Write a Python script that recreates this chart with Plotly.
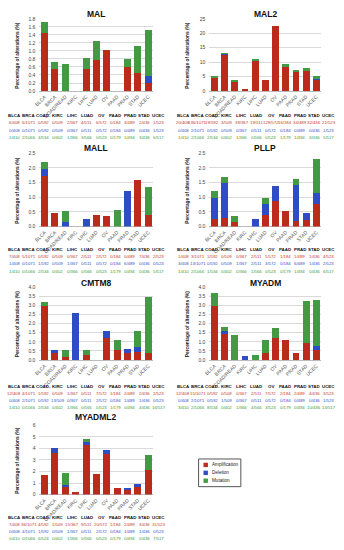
import plotly.graph_objects as go

W, H = 344, 550

categories = ["BLCA", "BRCA", "COAD/READ", "KIRC", "LIHC", "LUAD", "OV", "PAAD", "PRAD", "STAD", "UCEC"]
table_header = ["BLCA", "BRCA", "COAD-", "KIRC", "LIHC", "LUAD", "OV", "PAAD", "PRAD", "STAD", "UCEC"]

# ---- MAL ----
mal_amp = [1.45, 0.56, 0, 0, 0.54, 0.78, 1.03, 0, 0.61, 0.46, 0.19]
mal_del = [0, 0, 0, 0, 0, 0, 0, 0, 0, 0, 0.19]
mal_mut = [0.26, 0.17, 0.67, 0, 0.28, 0.47, 0, 0, 0.20, 0.67, 1.14]
mal_amp_txt = ["6/408", "6/1071", "0/592", "0/509", "2/367", "4/511", "6/572", "0/184", "3/489", "2/436", "1/523"]
mal_del_txt = ["0/408", "0/1071", "0/592", "0/509", "0/367", "0/511", "0/572", "0/184", "0/489", "0/436", "1/523"]
mal_mut_txt = ["1/410", "2/1066", "4/534", "0/402", "1/366", "3/566", "0/523", "0/179", "1/494", "3/436", "6/517"]

# ---- MAL2 ----
mal2_amp = [4.9, 12.7, 3.2, 0.6, 10.6, 3.7, 22.5, 8.7, 6.95, 7.3, 4.0]
mal2_del = [0, 0.19, 0, 0, 0, 0, 0, 0, 0, 0, 0.19]
mal2_mut = [0.24, 0.19, 0.37, 0, 0.27, 0, 0, 0.56, 0.2, 0.69, 0.95]
mal2_amp_txt = ["20/408", "136/1071", "19/592", "3/509", "39/367", "19/511", "129/572", "16/184", "34/489", "32/436", "21/523"]
mal2_del_txt = ["0/408", "2/1071", "0/592", "0/509", "0/367", "0/511", "0/572", "0/184", "0/489", "0/436", "1/523"]
mal2_mut_txt = ["1/410", "2/1066", "2/534", "0/402", "1/366", "0/566", "0/523", "1/179", "1/494", "3/436", "5/517"]

# ---- MALL ----
mall_amp = [1.72, 0.47, 0, 0, 0, 0.39, 0.35, 0, 0, 1.6, 0.38]
mall_del = [0.25, 0, 0.17, 0, 0.27, 0, 0, 0, 1.23, 0, 0]
mall_mut = [0.24, 0, 0.37, 0, 0, 0, 0, 0.56, 0, 0, 0.97]
mall_amp_txt = ["7/408", "5/1071", "0/592", "0/509", "0/367", "2/511", "2/572", "0/184", "0/489", "7/436", "2/523"]
mall_del_txt = ["1/408", "0/1071", "1/592", "0/509", "1/367", "0/511", "0/572", "0/184", "6/489", "0/436", "0/523"]
mall_mut_txt = ["1/410", "0/1066", "2/534", "0/402", "0/366", "0/566", "0/523", "1/179", "0/494", "0/436", "5/517"]

# ---- PLLP ----
pllp_amp = [0.25, 0.28, 0.17, 0, 0, 0.39, 0.87, 0.54, 0.2, 0.23, 0.76]
pllp_del = [0.74, 1.21, 0, 0, 0.27, 0.39, 0.52, 0, 1.23, 0.23, 0.38]
pllp_mut = [0.24, 0.19, 0.19, 0, 0, 0.18, 0, 0, 0.2, 0, 1.16]
pllp_amp_txt = ["1/408", "3/1071", "1/592", "0/509", "0/367", "2/511", "5/572", "1/184", "1/489", "1/436", "4/523"]
pllp_del_txt = ["3/408", "13/1071", "0/592", "0/509", "1/367", "2/511", "3/572", "0/184", "6/489", "1/436", "2/523"]
pllp_mut_txt = ["1/410", "2/1066", "1/534", "0/402", "0/366", "1/566", "0/523", "0/179", "1/494", "0/436", "6/517"]

# ---- CMTM8 ----
cmtm8_amp = [2.94, 0.37, 0.17, 0, 0.27, 0, 1.22, 0.54, 0.41, 0.46, 0.38]
cmtm8_del = [0, 0.19, 0, 2.55, 0, 0, 0.35, 0, 0.2, 0.23, 0]
cmtm8_mut = [0.24, 0, 0.37, 0, 0.27, 0, 0, 0.56, 0, 0.92, 3.09]
cmtm8_amp_txt = ["12/408", "4/1071", "1/592", "0/509", "1/367", "0/511", "7/572", "1/184", "2/489", "2/436", "2/523"]
cmtm8_del_txt = ["0/408", "2/1071", "0/592", "13/509", "0/367", "0/511", "2/572", "0/184", "1/489", "1/436", "0/523"]
cmtm8_mut_txt = ["1/410", "0/1066", "2/534", "0/402", "1/366", "0/566", "0/523", "1/179", "0/494", "4/436", "16/517"]

# ---- MYADM ----
myadm_amp = [2.94, 1.4, 0, 0, 0, 0.39, 1.22, 1.09, 0.41, 0.92, 0.57]
myadm_del = [0, 0.19, 0, 0.2, 0, 0, 0, 0, 0, 0, 0.19]
myadm_mut = [0.73, 0.19, 1.37, 0, 0.27, 0.71, 0.53, 0, 0, 2.29, 2.51]
myadm_amp_txt = ["12/408", "15/1071", "0/592", "0/509", "0/367", "2/511", "7/572", "2/184", "2/489", "4/436", "3/523"]
myadm_del_txt = ["0/408", "2/1071", "0/592", "1/509", "0/367", "0/511", "0/572", "0/184", "0/489", "0/436", "1/523"]
myadm_mut_txt = ["3/410", "2/1066", "8/534", "0/402", "1/366", "4/566", "3/523", "0/179", "0/494", "10/436", "13/517"]

# ---- MYADML2 ----
myadml2_amp = [1.72, 3.6, 0.68, 0.2, 4.3, 1.76, 3.5, 0.54, 0.41, 0.69, 2.1]
myadml2_del = [0, 0.45, 0.17, 0, 0.27, 0, 0.35, 0, 0.2, 0.23, 0]
myadml2_mut = [0, 0, 1.05, 0, 0.27, 0, 0, 0, 0, 0, 1.3]
myadml2_amp_txt = ["7/408", "36/1071", "4/592", "1/509", "15/367", "9/511", "20/572", "1/184", "2/489", "3/436", "11/523"]
myadml2_del_txt = ["0/408", "4/1071", "1/592", "0/509", "1/367", "0/511", "2/572", "0/184", "1/489", "1/436", "0/523"]
myadml2_mut_txt = ["0/410", "0/1066", "6/524", "0/402", "1/366", "0/566", "0/523", "0/179", "0/494", "0/436", "7/517"]

series_names = ["Amplification", "Deletion", "Mutation"]
bar_colors = ["#BA2B1C", "#2E4DC4", "#449A44"]
text_colors = ["#C0392B", "#3552C8", "#3A9A3A"]

panels = [
    ("MAL", 0, 0, 1.8, 0.2, ".1f", mal_amp, mal_del, mal_mut, mal_amp_txt, mal_del_txt, mal_mut_txt),
    ("MAL2", 1, 0, 25, 5, "d", mal2_amp, mal2_del, mal2_mut, mal2_amp_txt, mal2_del_txt, mal2_mut_txt),
    ("MALL", 0, 1, 2.5, 0.5, ".1f", mall_amp, mall_del, mall_mut, mall_amp_txt, mall_del_txt, mall_mut_txt),
    ("PLLP", 1, 1, 2.5, 0.5, ".1f", pllp_amp, pllp_del, pllp_mut, pllp_amp_txt, pllp_del_txt, pllp_mut_txt),
    ("CMTM8", 0, 2, 4.0, 0.5, ".1f", cmtm8_amp, cmtm8_del, cmtm8_mut, cmtm8_amp_txt, cmtm8_del_txt, cmtm8_mut_txt),
    ("MYADM", 1, 2, 4.0, 0.5, ".1f", myadm_amp, myadm_del, myadm_mut, myadm_amp_txt, myadm_del_txt, myadm_mut_txt),
    ("MYADML2", 0, 3, 6, 1, "d", myadml2_amp, myadml2_del, myadml2_mut, myadml2_amp_txt, myadml2_del_txt, myadml2_mut_txt),
]

# geometry (pixels)
plot_x = {0: (34, 150), 1: (207, 321)}
plot_y = {0: (16, 89), 1: (152, 226), 2: (287, 361), 3: (427, 497)}
title_y = {0: 11, 1: 147, 2: 283, 3: 419}
table_y = {0: [114, 121, 128.5, 136], 1: [249, 256, 263.5, 271], 2: [388, 395, 402, 409], 3: [520, 527, 534, 541]}
table_x0 = {0: 8.5, 1: 180.5}
table_dx = {0: 14.7, 1: 14.8}
ytitle_x = {0: 12, 1: 185}


def fx(px):
    return px / W


def fy(py):
    return 1 - py / H


FONT = "Liberation Sans, Arial, sans-serif"
fig = go.Figure()
annotations = []
shapes = []
layout_axes = {}

for i, (name, col, row, ymax, dtick, fmt, a, d, m, at, dt, mt) in enumerate(panels, start=1):
    xs = "x" if i == 1 else f"x{i}"
    ys = "y" if i == 1 else f"y{i}"
    for vals, sname, color in zip([a, d, m], series_names, bar_colors):
        fig.add_trace(go.Bar(x=categories, y=vals, name=sname, marker=dict(color=color, line=dict(width=0)),
                             xaxis=xs, yaxis=ys, showlegend=False))
    x0, x1 = plot_x[col]
    y0, y1 = plot_y[row]
    layout_axes["xaxis" if i == 1 else f"xaxis{i}"] = dict(
        domain=[fx(x0), fx(x1)], anchor=ys, type="category", categoryorder="array", categoryarray=categories,
        showgrid=False, showline=False, ticks="", tickangle=-45, tickfont=dict(size=5, color="#555", family=FONT),
        ticklabelstandoff=1, fixedrange=True)
    layout_axes["yaxis" if i == 1 else f"yaxis{i}"] = dict(
        domain=[fy(y1), fy(y0)], anchor=xs, range=[0, ymax], dtick=dtick, tick0=0, tickformat=fmt,
        showgrid=True, gridcolor="#D9D9D9", gridwidth=0.7, zeroline=True, zerolinecolor="#BBBBBB", zerolinewidth=0.8,
        showline=False, ticks="", tickfont=dict(size=5, color="#444", family=FONT), ticklabelstandoff=3,
        fixedrange=True)
    annotations.append(dict(text=f"<b>{name}</b>", x=fx((x0 + x1) / 2), y=fy(title_y[row]), xref="paper", yref="paper",
                            showarrow=False, xanchor="center", yanchor="middle", font=dict(size=8.5, color="#111", family=FONT)))
    annotations.append(dict(text="<b>Percentage of alterations (%)</b>", x=fx(ytitle_x[col]), y=fy((y0 + y1) / 2),
                            xref="paper", yref="paper", showarrow=False, textangle=-90, xanchor="center",
                            yanchor="middle", font=dict(size=4.8, color="#222", family=FONT)))
    rows_txt = [table_header, at, dt, mt]
    row_colors = ["#111"] + text_colors
    for r, (txts, tc) in enumerate(zip(rows_txt, row_colors)):
        for k, t in enumerate(txts):
            label = f"<b>{t}</b>" if r == 0 else t
            annotations.append(dict(text=label, x=fx(table_x0[col] + k * table_dx[col]), y=fy(table_y[row][r]),
                                    xref="paper", yref="paper", showarrow=False, xanchor="center", yanchor="middle",
                                    font=dict(size=4.4 if r == 0 else 4.3, color=tc, family=FONT)))

# legend (drawn manually)
lx0, ly0, lx1, ly1 = 196, 461, 239, 489
shapes.append(dict(type="rect", xref="paper", yref="paper", x0=fx(lx0), x1=fx(lx1), y0=fy(ly1), y1=fy(ly0),
                   line=dict(color="#555", width=1), fillcolor="rgba(0,0,0,0)"))
for k, (sname, color) in enumerate(zip(series_names, bar_colors)):
    cy = 467 + 8 * k
    shapes.append(dict(type="rect", xref="paper", yref="paper", x0=fx(201), x1=fx(205.5), y0=fy(cy + 2.2),
                       y1=fy(cy - 2.2), line=dict(width=0), fillcolor=color))
    annotations.append(dict(text=sname, x=fx(207.5), y=fy(cy), xref="paper", yref="paper", showarrow=False,
                            xanchor="left", yanchor="middle", font=dict(size=4.6, color="#222", family=FONT)))

fig.update_layout(
    width=W, height=H, autosize=False, margin=dict(l=0, r=0, t=0, b=0),
    paper_bgcolor="white", plot_bgcolor="white", barmode="stack", bargap=0.33,
    font=dict(family=FONT), annotations=annotations, shapes=shapes, showlegend=False,
    **layout_axes)

fig.write_html("out.html", config={"displayModeBar": False},
               post_script="document.body.style.margin='0px';document.body.style.overflow='hidden';")
